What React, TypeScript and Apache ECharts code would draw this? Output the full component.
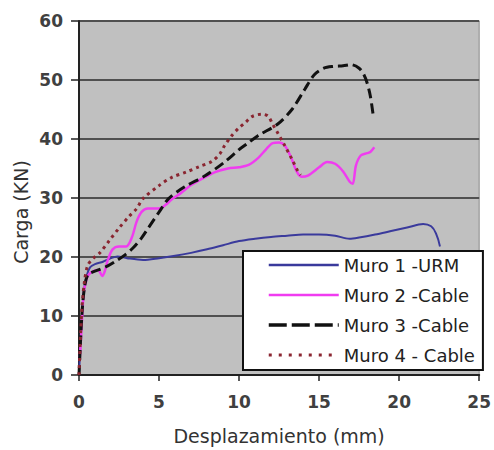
import React, { useEffect, useRef } from "react";
import * as echarts from "echarts";

const seriesNames = ["Muro 1 -URM", "Muro 2 -Cable", "Muro 3 -Cable", "Muro 4 - Cable"];

const muro1: number[][] = [
  [0, 0], [0.1, 6], [0.2, 11], [0.35, 15], [0.5, 17], [0.7, 18.3], [1.0, 18.8], [1.5, 19.2],
  [2.0, 19.8], [2.4, 20.1], [3.0, 19.8], [4.0, 19.5], [5.0, 19.8], [6.0, 20.2], [7.0, 20.7],
  [8.0, 21.3], [9.0, 22], [10.0, 22.7], [11, 23.1], [12, 23.4], [13, 23.6], [14, 23.8],
  [15, 23.8], [16, 23.6], [16.9, 23.1], [17.5, 23.3], [18.5, 23.8], [19.5, 24.4], [20.5, 25],
  [21.5, 25.6], [22, 25.2], [22.3, 24], [22.55, 21.8],
];

const muro2: number[][] = [
  [0.05, 3], [0.12, 6], [0.2, 10], [0.3, 14], [0.45, 16], [0.6, 17], [0.9, 17.6], [1.2, 17.8],
  [1.45, 16.8], [1.6, 17.5], [1.8, 19.5], [2.1, 21.3], [2.5, 21.8], [2.95, 21.8], [3.3, 23.3],
  [3.6, 26], [3.9, 27.6], [4.3, 28.2], [5.0, 28.2], [5.4, 28.8], [5.8, 29.8], [6.3, 30.7],
  [7.0, 32.2], [7.5, 33], [8.5, 34.4], [9.3, 35], [10, 35.2], [10.6, 35.6], [11.2, 36.8],
  [11.7, 38.3], [12.1, 39.3], [12.5, 39.4], [12.85, 38.9], [13.2, 37.2], [13.6, 34.5],
  [13.9, 33.6], [14.3, 33.8], [15, 35.2], [15.5, 36.1], [16, 35.8], [16.5, 34.5], [16.9, 32.8],
  [17.1, 32.4], [17.3, 35.5], [17.6, 37.2], [18.0, 37.6], [18.2, 37.8], [18.45, 38.6],
];

const muro3: number[][] = [
  [0, 0], [0.1, 6], [0.2, 11], [0.35, 15], [0.55, 17], [0.8, 17.4], [1.3, 17.9], [1.8, 18.5],
  [2.3, 19.3], [2.9, 20.4], [3.4, 21.6], [3.9, 23.2], [4.3, 24.8], [5.0, 27.6], [5.6, 29.9],
  [6.6, 31.9], [7.9, 33.8], [9.1, 36.1], [10, 38.2], [10.5, 39.2], [11.2, 40.6], [12.4, 42.5],
  [13.3, 45], [14.1, 48.4], [14.7, 50.9], [15.3, 52], [15.9, 52.3], [16.5, 52.4], [17, 52.6],
  [17.5, 52], [17.8, 50.9], [18.0, 49.5], [18.2, 47.3], [18.4, 43.6],
];

const muro4: number[][] = [
  [0, 0], [0.1, 7], [0.2, 12], [0.35, 16], [0.55, 18.6], [0.9, 19.8], [1.3, 20.7], [1.9, 22.8],
  [2.5, 24.9], [3.1, 26.8], [3.6, 28.2], [4.0, 29.9], [5.0, 32.1], [5.8, 33.5], [6.7, 34.4],
  [7.5, 35.3], [8.3, 36.2], [8.8, 37.5], [9.1, 38.9], [9.55, 40.6], [10, 41.9], [10.4, 42.8],
  [10.8, 43.8], [11.4, 44.2], [11.8, 43.9], [12.1, 42.5], [12.4, 41.1], [12.85, 38.9],
  [13.3, 36.6], [13.7, 34.4], [13.85, 33.9],
];

const xTicks = { min: 0, max: 25, interval: 5 };
const yTicks = { min: 0, max: 60, interval: 10 };

const colors = ["#3a3a9c", "#f03cf0", "#111111", "#8a2530"];

export default function App() {
  const ref = useRef<HTMLDivElement>(null);
  useEffect(() => {
    if (!ref.current) return;
    const chart = echarts.init(ref.current, null, { renderer: "svg" });
    const tickFont = { fontFamily: "DejaVu Sans", fontWeight: "bold" as const, fontSize: 17, color: "#404040" };
    const legendLine = [
      { width: 2.5, type: "solid" as any },
      { width: 2.5, type: "solid" as any },
      { width: 3.5, type: [18, 5] as any },
      { width: 3, type: [3, 7] as any },
    ];
    chart.setOption({
      animation: false,
      backgroundColor: "#ffffff",
      grid: {
        left: 79, top: 21, right: 12, bottom: 72,
        show: true, backgroundColor: "#c0c0c0", borderColor: "#8a8a8a", borderWidth: 1,
      },
      legend: {
        orient: "vertical",
        left: 243, top: 251,
        width: 238,
        backgroundColor: "#ffffff",
        borderColor: "#111111", borderWidth: 2, borderRadius: 0,
        padding: [5, 8, 6, 24],
        itemWidth: 70, itemHeight: 14, itemGap: 12,
        itemStyle: { opacity: 0 },
        textStyle: { fontFamily: "DejaVu Sans", fontSize: 18, color: "#222222" },
        data: seriesNames.map((n, i) => ({
          name: n,
          itemStyle: { opacity: 0 },
          lineStyle: { color: colors[i], ...legendLine[i] },
        })),
      },
      graphic: [
        {
          type: "text",
          x: 21, y: 212,
          rotation: Math.PI / 2,
          style: {
            text: "Carga (KN)",
            fontFamily: "DejaVu Sans", fontSize: 19, fill: "#333333",
            align: "center", verticalAlign: "middle",
          },
        },
      ],
      xAxis: {
        type: "value", ...xTicks,
        name: "Desplazamiento (mm)", nameLocation: "middle", nameGap: 51,
        nameTextStyle: { fontFamily: "DejaVu Sans", fontSize: 19, color: "#333333" },
        axisLine: { show: true, lineStyle: { color: "#222222", width: 2 } },
        axisTick: { show: true, length: 6, lineStyle: { color: "#222222", width: 1.5 } },
        axisLabel: { ...tickFont, margin: 18 },
        splitLine: { show: false },
      },
      yAxis: {
        type: "value", ...yTicks,
        axisLine: { show: true, lineStyle: { color: "#222222", width: 2 } },
        axisTick: { show: true, length: 8, lineStyle: { color: "#222222", width: 1.5 } },
        axisLabel: { ...tickFont, margin: 16 },
        splitLine: { show: true, lineStyle: { color: "#505050", width: 2 } },
      },
      series: [
        {
          name: seriesNames[0], type: "line", data: muro1, symbol: "none", smooth: 0.3,
          lineStyle: { color: colors[0], width: 2 }, itemStyle: { color: colors[0] },
        },
        {
          name: seriesNames[1], type: "line", data: muro2, symbol: "none", smooth: 0.3,
          lineStyle: { color: colors[1], width: 2.5 }, itemStyle: { color: colors[1] },
        },
        {
          name: seriesNames[2], type: "line", data: muro3, symbol: "none", smooth: 0.3,
          lineStyle: { color: colors[2], width: 3, type: [10, 5] }, itemStyle: { color: colors[2] },
        },
        {
          name: seriesNames[3], type: "line", data: muro4, symbol: "none", smooth: 0.3,
          lineStyle: { color: colors[3], width: 3, type: [3, 4] }, itemStyle: { color: colors[3] },
        },
      ],
    });
    return () => chart.dispose();
  }, []);
  return (
    <div
      ref={ref}
      style={{ position: "fixed", left: 0, top: 0, width: 494, height: 450 }}
    />
  );
}
